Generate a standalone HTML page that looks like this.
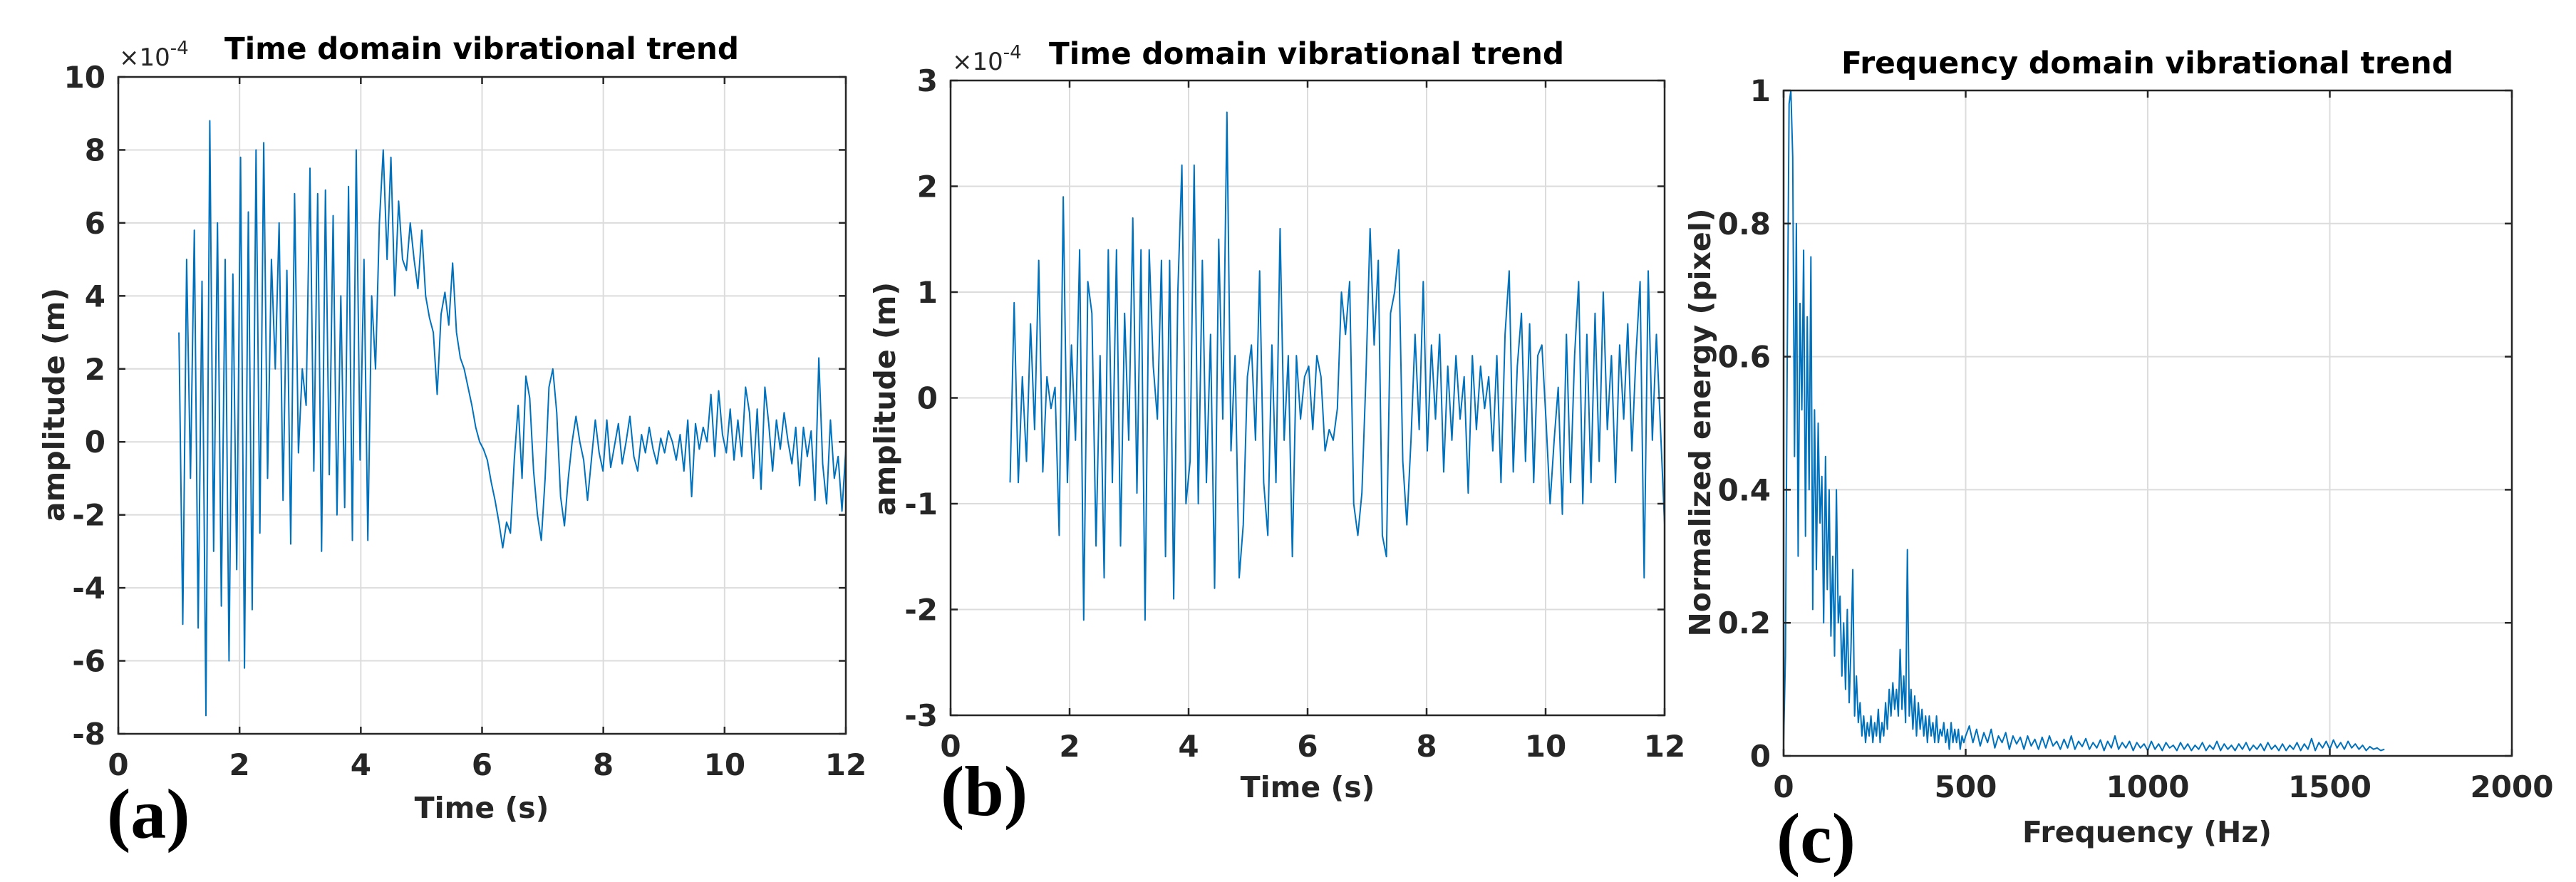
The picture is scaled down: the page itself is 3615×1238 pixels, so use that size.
<!DOCTYPE html>
<html><head><meta charset="utf-8"><style>
html,body{margin:0;padding:0;background:#fff}
svg{display:block}
text{font-family:"DejaVu Sans","Liberation Sans",sans-serif;font-weight:bold;fill:#262626}
.pl{font-family:"Liberation Serif","DejaVu Serif",serif;fill:#000}
</style></head><body>
<svg id="fig" width="3615" height="1238" viewBox="0 0 3615 1238" xmlns="http://www.w3.org/2000/svg">
<rect width="3615" height="1238" fill="#fff"/>
<g id="pa"></g>
<g id="pb"></g>
<g id="pc"></g>
<text x="315" y="83" font-size="43" textLength="722" lengthAdjust="spacingAndGlyphs" style="fill:#000">Time domain vibrational trend</text>
<text x="167" y="92" font-size="34" style="font-weight:normal">×10<tspan dy="-16" font-size="26">-4</tspan></text>
<text transform="translate(90,568) rotate(-90)" text-anchor="middle" font-size="41">amplitude (m)</text>
<text x="676" y="1148" text-anchor="middle" font-size="41">Time (s)</text>
<text class="pl" x="150" y="1176" font-size="100">(a)</text>

<text x="1472" y="90" font-size="43" textLength="723" lengthAdjust="spacingAndGlyphs" style="fill:#000">Time domain vibrational trend</text>
<text x="1336" y="98" font-size="34" style="font-weight:normal">×10<tspan dy="-16" font-size="26">-4</tspan></text>
<text transform="translate(1256,560) rotate(-90)" text-anchor="middle" font-size="41">amplitude (m)</text>
<text x="1835" y="1119" text-anchor="middle" font-size="41">Time (s)</text>
<text class="pl" x="1320" y="1144" font-size="100">(b)</text>

<text x="2584" y="103" font-size="43" textLength="859" lengthAdjust="spacingAndGlyphs" style="fill:#000">Frequency domain vibrational trend</text>
<text transform="translate(2400,593) rotate(-90)" text-anchor="middle" font-size="41">Normalized energy (pixel)</text>
<text x="3013" y="1182" text-anchor="middle" font-size="41">Frequency (Hz)</text>
<text class="pl" x="2493" y="1210" font-size="100">(c)</text>
</svg>
<script>
// Panel (a) data: amplitude ×1e-4 m, uniformly sampled from tStartA to tEndA
const tStartA = 1, tEndA = 12;
const ampA = [3,-5,5,-1,5.8,-5.1,4.4,-7.5,8.8,-3,6,-4.5,5,-6,4.6,-3.5,7.8,-6.2,6.3,-4.6,8,-2.5,8.2,-1,5,2,6,-1.6,4.7,-2.8,6.8,-0.3,2,1,7.5,-0.8,6.8,-3,6.9,-0.9,6.2,-2,4,-1.8,7,-2.7,8,-0.5,5,-2.7,4,2,6,8,5,7.8,4,6.6,5,4.7,6,5,4.2,5.8,4,3.4,3,1.3,3.5,4.1,3.2,4.9,3,2.3,2,1.5,1,0.4,0,-0.2,-0.5,-1.1,-1.6,-2.2,-2.9,-2.2,-2.5,-0.5,1,-1,1.8,1.2,-0.8,-2,-2.7,-1,1.5,2,0.8,-1.5,-2.3,-1,0,0.7,0,-0.5,-1.6,-0.5,0.6,-0.3,-0.8,0.6,-0.7,-0.1,0.5,-0.6,0,0.7,-0.4,-0.8,0.2,-0.3,0.4,-0.2,-0.6,0.1,-0.3,0.3,0,-0.5,0.2,-0.8,0.6,-1.5,0.5,-0.2,0.4,0,1.3,-0.4,1.4,0.2,-0.3,0.9,-0.5,0.6,-0.4,1.5,0.8,-1,0.9,-1.3,1.5,0.5,-0.8,0.6,-0.2,0.8,0,-0.6,0.4,-1.2,0.4,-0.4,0.3,-1.6,2.3,-0.6,-1.7,0.6,-1,-0.4,-1.9,-0.2];
const yTicksA = [-8,-6,-4,-2,0,2,4,6,8,10];
const xTicksT = [0,2,4,6,8,10,12];

// Panel (b) data
const tStartB = 1, tEndB = 12;
const ampB = [-0.8,0.9,-0.8,0.2,-0.6,0.7,-0.3,1.3,-0.7,0.2,-0.1,0.1,-1.3,1.9,-0.8,0.5,-0.4,1.4,-2.1,1.1,0.8,-1.4,0.4,-1.7,1.4,-0.8,1.4,-1.4,0.8,-0.4,1.7,-0.9,1.4,-2.1,1.4,0.3,-0.2,1.3,-1.5,1.3,-1.9,1,2.2,-1,-0.6,2.2,-1,1.3,-0.8,0.6,-1.8,1.5,-0.2,2.7,-0.5,0.4,-1.7,-1.2,0.2,0.5,-0.4,1.2,-0.8,-1.3,0.5,-0.8,1.6,-0.4,0.4,-1.5,0.4,-0.2,0.2,0.3,-0.3,0.4,0.2,-0.5,-0.3,-0.4,-0.1,1,0.6,1.1,-1,-1.3,-0.9,0.2,1.6,0.5,1.3,-1.3,-1.5,0.8,1,1.4,-0.6,-1.2,-0.4,0.6,-0.3,1.1,-0.5,0.5,-0.2,0.6,-0.7,0.3,-0.4,0.4,-0.2,0.2,-0.9,0.4,-0.3,0.3,-0.1,0.2,-0.5,0.4,-0.8,0.6,1.2,-0.7,0.3,0.8,-0.6,0.7,-0.8,0.4,0.5,-0.2,-1,-0.4,0.1,-1.1,0.6,-0.8,0.4,1.1,-1,0.6,-0.8,0.8,-0.6,1,-0.3,0.4,-0.8,0.5,-0.2,0.7,-0.5,0.4,1.1,-1.7,1.2,-0.4,0.6,-0.3,-1.2];
const yTicksB = [-3,-2,-1,0,1,2,3];

// Panel (c) data: energyLow at 5 Hz steps 0..500, energyHigh at 10 Hz steps 510..1650
const energyLow = [0.02,0.15,0.6,0.98,1.0,0.9,0.45,0.8,0.3,0.68,0.52,0.76,0.33,0.66,0.4,0.75,0.22,0.52,0.28,0.5,0.35,0.42,0.2,0.45,0.25,0.4,0.18,0.3,0.15,0.4,0.2,0.24,0.12,0.2,0.1,0.22,0.08,0.16,0.28,0.06,0.12,0.05,0.08,0.03,0.06,0.02,0.05,0.03,0.06,0.02,0.05,0.03,0.07,0.02,0.05,0.03,0.08,0.04,0.1,0.06,0.11,0.07,0.1,0.06,0.16,0.07,0.12,0.05,0.31,0.06,0.1,0.04,0.09,0.03,0.08,0.04,0.07,0.03,0.06,0.02,0.06,0.03,0.05,0.02,0.06,0.02,0.04,0.03,0.05,0.02,0.04,0.01,0.05,0.02,0.04,0.02,0.04,0.01,0.03,0.02,0.03];
const energyHigh = [0.045,0.02,0.04,0.015,0.035,0.02,0.04,0.012,0.03,0.02,0.035,0.01,0.03,0.018,0.028,0.01,0.03,0.015,0.025,0.01,0.028,0.012,0.03,0.015,0.022,0.01,0.025,0.012,0.03,0.01,0.022,0.014,0.026,0.01,0.02,0.012,0.024,0.008,0.022,0.012,0.03,0.01,0.02,0.012,0.022,0.008,0.02,0.012,0.018,0.008,0.022,0.01,0.018,0.008,0.02,0.012,0.016,0.008,0.02,0.01,0.018,0.008,0.016,0.01,0.02,0.008,0.016,0.01,0.022,0.008,0.018,0.01,0.016,0.008,0.018,0.01,0.02,0.008,0.016,0.01,0.018,0.008,0.02,0.01,0.016,0.008,0.018,0.008,0.016,0.01,0.02,0.008,0.018,0.01,0.026,0.008,0.02,0.012,0.022,0.01,0.024,0.012,0.02,0.01,0.022,0.012,0.018,0.01,0.016,0.008,0.014,0.01,0.012,0.008,0.01];
const yTicksC = [0,0.2,0.4,0.6,0.8,1];
const yTickLabelsC = ['0','0.2','0.4','0.6','0.8','1'];
const xTicksC = [0,500,1000,1500,2000];

const NS = 'http://www.w3.org/2000/svg';
function mk(tag, parent){ const e = document.createElementNS(NS, tag); parent.appendChild(e); return e; }
function ln(g, name, x1, y1, x2, y2, col, w){
  const l = mk('line', g);
  
  
  l.setAttribute('x1', x1); l.setAttribute('x2', x2);
  l.setAttribute('y1', y1); l.setAttribute('y2', y2);
  l.setAttribute('stroke', col); l.setAttribute('stroke-width', w);
}

function drawPanel(gid, box, xd, yd, xt, xtl, yt, ytl, xs, ys){
  const g = document.getElementById(gid);
  const sx = v => box.l + (v - xd[0]) / (xd[1] - xd[0]) * (box.r - box.l);
  const sy = v => box.b - (v - yd[0]) / (yd[1] - yd[0]) * (box.b - box.t);
  xt.forEach((v, i) => {
    ln(g, 'x-gridline', sx(v), box.t, sx(v), box.b, '#dcdcdc', 2);
    const tk = mk('text', g);
    
    
    tk.setAttribute('x', sx(v)); tk.setAttribute('y', box.b + 58);
    tk.setAttribute('text-anchor', 'middle'); tk.setAttribute('font-size', '42');
    tk.textContent = xtl[i];
  });
  yt.forEach((v, i) => {
    ln(g, 'y-gridline', box.l, sy(v), box.r, sy(v), '#dcdcdc', 2);
    const tk = mk('text', g);
    
    
    tk.setAttribute('x', box.l - 18); tk.setAttribute('y', sy(v) + 15);
    tk.setAttribute('text-anchor', 'end'); tk.setAttribute('font-size', '42');
    tk.textContent = ytl[i];
  });
  const pts = xs.map((x, i) => sx(x).toFixed(1) + ',' + sy(ys[i]).toFixed(1)).join(' ');
  const pl = mk('polyline', g);
  
  
  pl.setAttribute('points', pts);
  pl.setAttribute('fill', 'none'); pl.setAttribute('stroke', '#0072BD');
  pl.setAttribute('stroke-width', '2'); pl.setAttribute('stroke-linejoin', 'round');
  xt.forEach(v => {
    ln(g, 'x-tick-mark', sx(v), box.b, sx(v), box.b - 10, '#262626', 2.5);
    ln(g, 'x-tick-mark', sx(v), box.t, sx(v), box.t + 10, '#262626', 2.5);
  });
  yt.forEach(v => {
    ln(g, 'y-tick-mark', box.l, sy(v), box.l + 10, sy(v), '#262626', 2.5);
    ln(g, 'y-tick-mark', box.r, sy(v), box.r - 10, sy(v), '#262626', 2.5);
  });
  const bx = mk('rect', g);
  
  
  bx.setAttribute('x', box.l); bx.setAttribute('y', box.t);
  bx.setAttribute('width', box.r - box.l); bx.setAttribute('height', box.b - box.t);
  bx.setAttribute('fill', 'none'); bx.setAttribute('stroke', '#262626'); bx.setAttribute('stroke-width', '2.5');
}

const xsA = ampA.map((_, i) => tStartA + i * (tEndA - tStartA) / (ampA.length - 1));
drawPanel('pa', {l:166, r:1187, t:108, b:1030}, [0,12], [-8,10], xTicksT, xTicksT.map(String), yTicksA, yTicksA.map(String), xsA, ampA);

const xsB = ampB.map((_, i) => tStartB + i * (tEndB - tStartB) / (ampB.length - 1));
drawPanel('pb', {l:1334, r:2336, t:113, b:1004}, [0,12], [-3,3], xTicksT, xTicksT.map(String), yTicksB, yTicksB.map(String), xsB, ampB);

const freqsC = energyLow.map((_, i) => i * 5).concat(energyHigh.map((_, i) => 510 + i * 10));
const energyC = energyLow.concat(energyHigh);
drawPanel('pc', {l:2503, r:3525, t:127, b:1061}, [0,2000], [0,1], xTicksC, xTicksC.map(String), yTicksC, yTickLabelsC, freqsC, energyC);
</script>
</body></html>
